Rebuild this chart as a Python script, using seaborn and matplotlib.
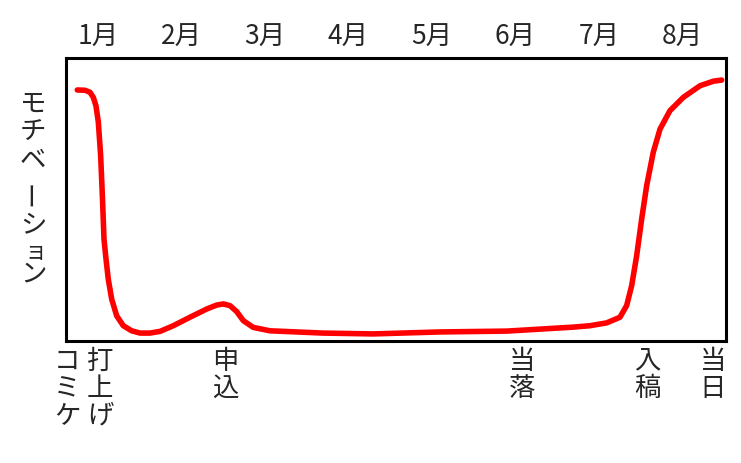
import numpy as np
import pandas as pd
import matplotlib
matplotlib.use("Agg")
import matplotlib.pyplot as plt
import seaborn as sns

# month ticks along the top
months = [1, 2, 3, 4, 5, 6, 7, 8]
month_labels = ["1月", "2月", "3月", "4月", "5月", "6月", "7月", "8月"]

# motivation curve (x in months, y 0-100)
curve_x = [0.752, 0.844, 0.904, 0.944, 0.976, 1.004, 1.032, 1.054, 1.072, 1.096,
           1.123, 1.164, 1.224, 1.303, 1.404, 1.503, 1.623, 1.743, 1.902, 2.102,
           2.302, 2.422, 2.501, 2.581, 2.661, 2.740, 2.860, 3.060, 3.695, 4.293,
           5.096, 5.898, 6.689, 6.892, 7.092, 7.251, 7.331, 7.391, 7.451, 7.511,
           7.571, 7.650, 7.731, 7.850, 8.010, 8.210, 8.369, 8.469]
curve_y = [88.7, 88.6, 87.9, 86.1, 83.1, 77.4, 65.5, 50.2, 36.0, 29.0,
           21.9, 14.8, 8.9, 5.4, 3.6, 2.8, 2.8, 3.4, 5.4, 8.4,
           11.3, 12.7, 13.1, 12.5, 10.4, 7.2, 4.8, 3.6, 2.8, 2.5,
           3.2, 3.5, 4.9, 5.4, 6.4, 8.4, 12.5, 19.5, 30.1, 43.1,
           54.9, 66.7, 74.9, 81.4, 86.1, 90.2, 91.8, 92.2]

# events under the axis
event_x = [0.629, 1.024, 2.521, 6.078, 7.575, 8.365]
event_labels = ["コミケ", "打上げ", "申込", "当落", "入稿", "当日"]

ylabel_text = "モチベーション"

sns.set_style("white")
plt.rcParams['font.family'] = ['Noto Sans CJK JP', 'DejaVu Sans']

fig = plt.figure(figsize=(7.41, 4.64), dpi=100)
ax = fig.add_axes([66 / 741, 1 - 342 / 464, 660 / 741, 283 / 464])

df = pd.DataFrame({"month": curve_x, "motivation": curve_y})
sns.lineplot(data=df, x="month", y="motivation", sort=False, ax=ax,
             color="#ff0000", linewidth=4.0, solid_capstyle="round",
             solid_joinstyle="round")

ax.set_xlim(0.617, 8.521)
ax.set_ylim(0, 100)
ax.xaxis.tick_top()
ax.set_xticks(months)
ax.set_xticklabels(month_labels, fontsize=19)
ax.tick_params(axis="x", length=0, pad=6)
ax.set_yticks([])
ax.set_xlabel("")
ax.set_ylabel("")
for sp in ax.spines.values():
    sp.set_visible(True)
    sp.set_color("black")
    sp.set_linewidth(2.2)

# vertical event labels
trans = ax.get_xaxis_transform()
for x, lab in zip(event_x, event_labels):
    ax.text(x, -0.02, "\n".join(lab), transform=trans, ha="center", va="top",
            fontsize=19, linespacing=1.02)

# vertical y label, one character at a time
char_y = [104, 132, 160, 193, 226, 251, 274]
char_x = [33, 33, 33, 33, 33, 35, 33]
for ch, px, py in zip(ylabel_text, char_x, char_y):
    rot = 90 if ch == "ー" else 0
    size = 16 if ch == "ョ" else 19
    fig.text(px / 741, 1 - py / 464, ch, ha="center", va="center",
             fontsize=size, rotation=rot)

fig.savefig("out.png", dpi=100)
